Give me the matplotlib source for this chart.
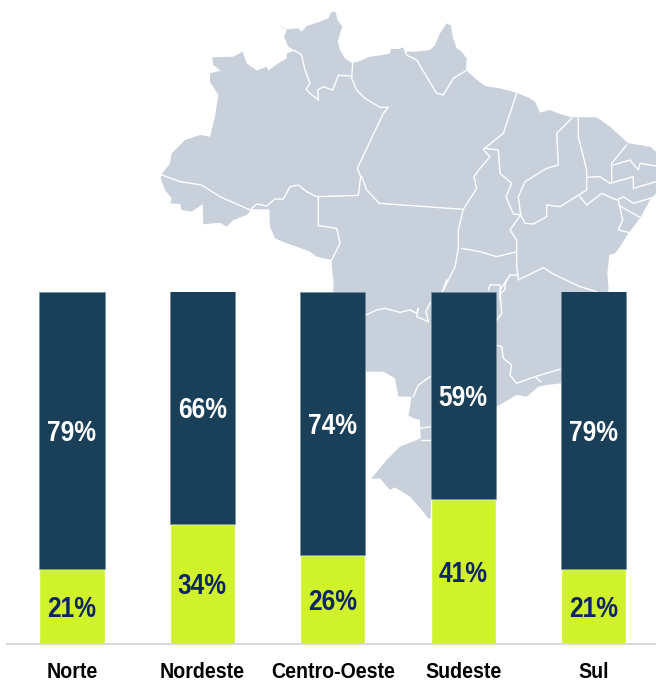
import matplotlib
matplotlib.use("Agg")
import matplotlib.pyplot as plt
from matplotlib.patches import Polygon
from matplotlib import font_manager as fm

categories = ["Norte", "Nordeste", "Centro-Oeste", "Sudeste", "Sul"]
lower_labels = [21, 34, 26, 41, 21]
upper_labels = [79, 66, 74, 59, 79]
lower_height = [21.2, 34.0, 25.2, 41.0, 21.1]
upper_height = [78.8, 66.0, 74.8, 59.0, 78.9]
DARK, LIME, MAP, NAVY = "#1A3F58", "#CFF22B", "#C8D0DC", "#0F2466"

W, H = 656, 684


def condensed_font(family_name, factor):
    """Write a horizontally narrowed copy of Liberation Sans Bold and register it."""
    try:
        from fontTools.ttLib import TTFont
        src = fm.findfont(fm.FontProperties(family="Liberation Sans", weight="bold"))
        font = TTFont(src)
        glyf = font["glyf"]
        for name in font.getGlyphOrder():
            g = glyf[name]
            if g.isComposite():
                for c in g.components:
                    c.x = round(c.x * factor)
            elif g.numberOfContours > 0:
                g.coordinates.scale((factor, 1))
                g.coordinates.toInt()
            g.recalcBounds(glyf)
        hmtx = font["hmtx"]
        for name, (adv, lsb) in list(hmtx.metrics.items()):
            hmtx.metrics[name] = (round(adv * factor), round(lsb * factor))
        for tag in ("kern", "GPOS", "GSUB", "fpgm", "prep", "cvt ", "hdmx", "VDMX", "LTSH"):
            if tag in font:
                del font[tag]
        for rec in font["name"].names:
            if rec.nameID in (1, 4, 16):
                rec.string = family_name
            elif rec.nameID == 6:
                rec.string = family_name.replace(" ", "") + "-Bold"
        path = family_name.replace(" ", "") + ".ttf"
        font.save(path)
        fm.fontManager.addfont(path)
        return family_name
    except Exception as exc:
        print("condense failed:", exc)
        return "Liberation Sans"


value_font = condensed_font("Chart Narrow Values", 0.81)
tick_font = condensed_font("Chart Narrow Ticks", 0.88)


# Decorative background map outline, in two crops' coordinates
def a(pts):
    return [(150 + x / 3, y / 3) for x, y in pts]
def b(pts):
    return [(300 + x / 3, 280 + y / 3) for x, y in pts]

outline = a([(545,35),(558,38),(562,60),(577,80),(570,100),(563,125),(570,150),(585,175),(607,190),(630,183),(660,170),(700,165),(720,160),(722,147),(745,147),(760,142),(765,155),(800,155),(840,150),(855,135),(870,100),(890,70),(903,77),(908,110),(920,145),(935,155),(950,175),(948,210),(975,235),(1005,258),(1050,265),(1100,278),(1140,295),(1155,305),(1170,338),(1200,330),(1230,342),(1265,352),(1300,352),(1340,352),(1380,380),(1435,430),(1500,440),(1518,455),(1518,580),(1500,600),(1470,655),(1435,700),(1410,740),(1395,760),(1378,765),(1372,820),(1376,870)]) + \
    b([(925,30),(900,200),(783,310),(740,315),(715,320),(680,350),(650,345),(590,380),(500,500),(395,715),(385,715),(365,690),(330,650),(285,622),(270,630),(240,595),(213,597),(260,540),(300,500),(362,475),(360,420),(325,410),(335,350),(295,350),(285,295),(250,275),(197,275),(100,150),(100,0)]) + \
    a([(560,870),(548,830),(545,780),(500,770),(480,755),(440,740),(410,730),(375,715),(360,680),(358,628),(305,628),(290,645),(250,660),(230,680),(210,668),(160,673),(158,612),(125,635),(95,630),(90,612),(60,610),(65,595),(45,570),(32,535),(35,522),(60,490),(65,460),(105,420),(150,405),(180,410),(195,350),(205,285),(180,245),(180,220),(212,212),(190,195),(187,172),(250,170),(278,155),(290,190),(320,212),(350,200),(355,212),(385,190),(410,175),(410,160),(435,152),(415,140),(402,110),(410,90),(380,72),(410,88),(445,85),(455,95),(470,78),(510,65),(535,55)])

borders = [a(p) for p in [
    [(35,525),(90,545),(155,555),(210,590),(300,630),(320,612),(350,618),(375,597),(400,597),(420,560),(445,555),(470,575),(500,590),(625,586),(632,530),(622,505),(700,340),(715,322),(690,322),(645,295),(620,270),(605,235),(608,190)],
    [(605,228),(565,226),(548,270),(520,260),(503,270),(505,300),(480,280),(468,268),(480,250),(465,210),(455,165),(435,152)],
    [(505,590),(505,677),(560,685),(570,730),(545,780)],
    [(635,530),(650,570),(688,610),(940,628),(925,690),(925,745),(915,800),(880,870)],
    [(940,628),(980,565),(972,530),(990,505),(1020,470),(1000,448),(1060,400),(1100,280)],
    [(1005,445),(1045,450),(1050,520),(1085,550),(1068,590),(1090,642),(1112,645)],
    [(765,150),(770,165),(800,180),(830,230),(860,280),(880,285),(910,235),(948,212)],
    [(1112,645),(1080,690),(1100,720),(1100,800),(1105,840),(1180,803),(1210,822),(1290,860),(1340,875)],
    [(1112,645),(1125,670),(1150,672),(1190,650),(1190,615),(1230,620),(1310,570),(1310,510),(1285,410),(1285,355)],
    [(1112,645),(1105,590),(1125,545),(1190,505),(1225,495),(1220,400),(1265,355)],
    [(935,745),(990,755),(1040,770),(1100,755)],
    [(1310,532),(1350,530),(1380,550),(1450,530),(1450,565),(1518,545)],
    [(1430,435),(1385,490),(1385,545)],
    [(1390,495),(1440,480),(1465,510),(1470,490),(1518,498)],
    [(1290,590),(1310,615),(1355,580),(1400,600),(1420,590),(1450,610),(1518,590)],
    [(1405,600),(1418,660),(1405,690),(1435,697)],
    [(1408,617),(1470,652)],
    [(1105,825),(1080,825),(1065,850),(1065,870),(1050,880),(1050,900)],
    [(1015,870),(1020,855),(1050,855),(1052,880)],
]] + [b(p) for p in [
    [(197,105),(230,90),(255,85),(300,97),(330,90),(350,100),(355,85),(350,110),(385,125)],
    [(440,0),(425,40),(390,70),(378,95),(385,125)],
    [(587,125),(605,100),(600,30),(620,0)],
    [(587,195),(605,200),(610,235),(635,255),(630,285),(650,310),(705,290),(780,268)],
    [(705,290),(722,305)],
    [(390,290),(355,315),(340,350)],
    [(330,410),(360,445),(390,440)],
    [(362,480),(390,480)],
]]

fig = plt.figure(figsize=(W / 100, H / 100), dpi=100, facecolor="white")

bg = fig.add_axes([0, 0, 1, 1], zorder=0)
bg.set_xlim(0, W); bg.set_ylim(H, 0); bg.axis("off")
bg.add_patch(Polygon(outline, closed=True, facecolor=MAP, edgecolor="none"))
for line in borders:
    bg.plot(*zip(*line), color="white", lw=1.0, solid_joinstyle="round")

# Bar axes: category spacing 130.4 px, first centre at x=72 px; 0-100 spans y 643.5..291.5 px
left_px, base_px, top_px = 7, 643.5, 291.5
ax = fig.add_axes([left_px / W, 1 - base_px / H, (W - left_px) / W, (base_px - top_px) / H], zorder=1)
ax.patch.set_alpha(0)
x = list(range(len(categories)))
low = ax.bar(x, lower_height, width=0.5, color=LIME, edgecolor="white", linewidth=1.0)
up = ax.bar(x, upper_height, width=0.5, bottom=lower_height, color=DARK, edgecolor="#6F8A9B", linewidth=0.4)
ax.set_xlim(-0.498, 4.479)
ax.set_ylim(0, 100)

value_style = dict(label_type="center", fontsize=21.8, fontweight="bold", family=value_font)
low_txt = ax.bar_label(low, labels=[f"{v}%" for v in lower_labels], color=NAVY, **value_style)
up_txt = ax.bar_label(up, labels=[f"{v}%" for v in upper_labels], color="white", **value_style)
for t in list(low_txt) + list(up_txt):
    t.xyann = (0, -1.9)

ax.set_xticks(x, categories, fontsize=16, fontweight="bold", family=tick_font, color="black")
ax.tick_params(axis="x", length=0, pad=13.2)
ax.set_yticks([])
for s in ("top", "left", "right"):
    ax.spines[s].set_visible(False)
ax.spines["bottom"].set_color("#D9D9D9")
ax.spines["bottom"].set_linewidth(1.5)

fig.savefig("out.png", dpi=100)
